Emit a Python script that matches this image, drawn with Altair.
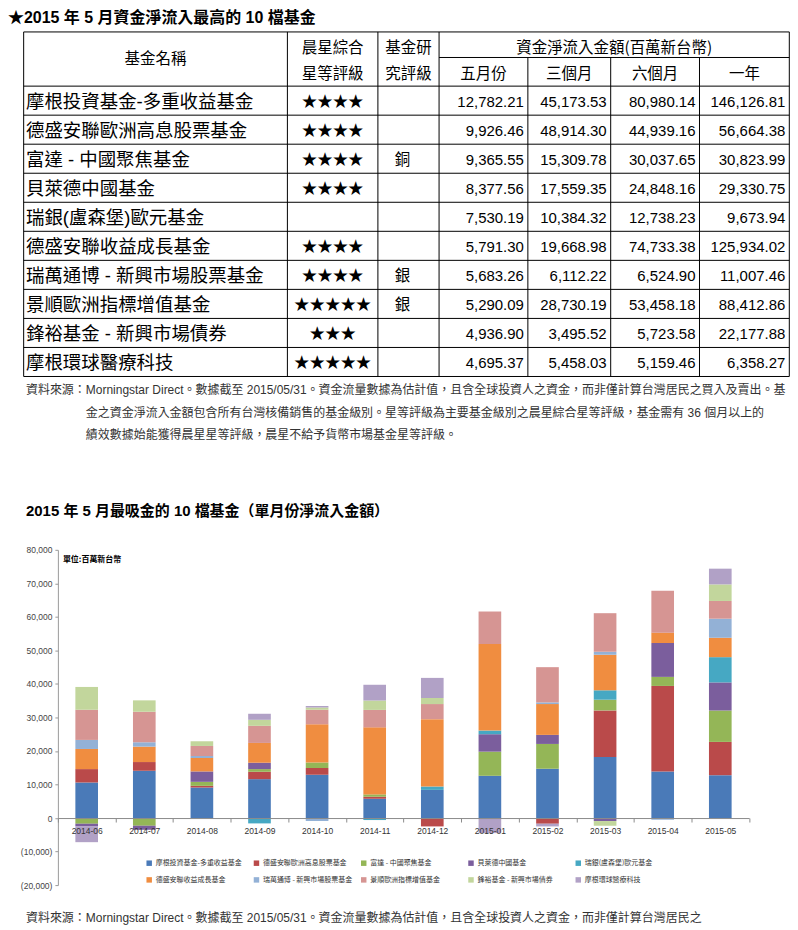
import altair as alt
import pandas as pd

# ---------------- data ----------------
months = ["2014-06", "2014-07", "2014-08", "2014-09", "2014-10", "2014-11",
          "2014-12", "2015-01", "2015-02", "2015-03", "2015-04", "2015-05"]

funds = ["摩根投資基金-多重收益基金", "德盛安聯歐洲高息股票基金", "富達 - 中國聚焦基金",
         "貝萊德中國基金", "瑞銀(盧森堡)歐元基金", "德盛安聯收益成長基金",
         "瑞萬通博 - 新興市場股票基金", "景順歐洲指標增值基金", "鋒裕基金 - 新興市場債券",
         "摩根環球醫療科技"]

fund_colors = ["#4A7AB8", "#BA4A4A", "#94B657", "#7B5E9D", "#46A8C3",
               "#F08D40", "#93B1D6", "#D69593", "#C2D69C", "#B1A1C6"]

# monthly net flows (NT$ million)
flow_morgan_income = [10600, 14100, 9100, 11600, 12900, 5750, 8400, 12600, 14700, 18200, 13900, 12782]
flow_allianz_euro  = [4000, 2600, 500, 2200, 2000, 600, -2500, 0, -1700, 13900, 25500, 9926]
flow_fidelity_cn   = [-1700, -2300, 1200, 800, 1700, 700, 0, 7200, 7400, 3200, 2700, 9366]
flow_blackrock_cn  = [-700, -1200, 3100, 1900, 0, 0, 0, 5200, 2700, -900, 10100, 8378]
flow_ubs_euro      = [0, 0, 0, -1600, 0, -600, 1000, 1100, 0, 2800, 0, 7530]
flow_allianz_inc   = [6000, 4600, 4000, 5900, 11400, 20000, 20100, 25800, 9200, 10600, 3100, 5791]
flow_vontobel_em   = [2700, 1300, 600, 0, -900, 0, 0, 0, 500, 900, -500, 5683]
flow_invesco_eu    = [9000, 9100, 3000, 5100, 4300, 5200, 4500, 9700, 10500, 11500, 12500, 5290]
flow_pioneer_em    = [6800, 3400, 1400, 1800, 700, 2800, 1800, 0, 0, -1400, 0, 4937]
flow_morgan_health = [-4800, 0, 0, 1800, 400, 4700, 6000, -4500, -800, 0, 0, 4695]

all_flows = [flow_morgan_income, flow_allianz_euro, flow_fidelity_cn, flow_blackrock_cn,
             flow_ubs_euro, flow_allianz_inc, flow_vontobel_em, flow_invesco_eu,
             flow_pioneer_em, flow_morgan_health]

# table
table_stars = ["★★★★", "★★★★", "★★★★", "★★★★", "", "★★★★", "★★★★", "★★★★★", "★★★", "★★★★★"]
table_research = ["", "", "銅", "", "", "", "銀", "銀", "", ""]
flow_may   = [12782.21, 9926.46, 9365.55, 8377.56, 7530.19, 5791.30, 5683.26, 5290.09, 4936.90, 4695.37]
flow_3m    = [45173.53, 48914.30, 15309.78, 17559.35, 10384.32, 19668.98, 6112.22, 28730.19, 3495.52, 5458.03]
flow_6m    = [80980.14, 44939.16, 30037.65, 24848.16, 12738.23, 74733.38, 6524.90, 53458.18, 5723.58, 5159.46]
flow_1y    = [146126.81, 56664.38, 30823.99, 29330.75, 9673.94, 125934.02, 11007.46, 88412.86, 22177.88, 6358.27]

table_title = "★2015 年 5 月資金淨流入最高的 10 檔基金"
chart_title = "2015 年 5 月最吸金的 10 檔基金（單月份淨流入金額）"
unit_label = "單位:百萬新台幣"
note_lines = [
    "資料來源：Morningstar Direct。數據截至 2015/05/31。資金流量數據為估計值，且含全球投資人之資金，而非僅計算台灣居民之買入及賣出。基",
    "金之資金淨流入金額包含所有台灣核備銷售的基金級別。星等評級為主要基金級別之晨星綜合星等評級，基金需有 36 個月以上的",
    "績效數據始能獲得晨星星等評級，晨星不給予貨幣市場基金星等評級。",
]
bottom_note = "資料來源：Morningstar Direct。數據截至 2015/05/31。資金流量數據為估計值，且含全球投資人之資金，而非僅計算台灣居民之"

# ---------------- layout (page pixels of the reference) ----------------
ORX, ORY = 57.0, 545.7          # plot-area origin
PW, PH = 692.7, 336.0           # plot-area size
Y_MIN, Y_MAX = -20000, 80000
BAR_W = 22.7
ZERO_FROM_BOTTOM = PH * (0 - Y_MIN) / (Y_MAX - Y_MIN)

def px(x):
    return x - ORX

def py(y):
    return y - ORY

CJK = "Noto Sans CJK TC"
LAT = "Liberation Sans, Noto Sans CJK TC"
NARROW = "Liberation Sans Narrow, Liberation Sans, Noto Sans CJK TC"

COLS = [22.7, 287.0, 377.7, 439.0, 528.0, 611.0, 700.0, 790.0]
T_TOP, T_SUB, T_HEAD, ROW_H = 26.7, 52.3, 81.0, 29.1
T_BOT = T_HEAD + ROW_H * 10

# table lines
segs = []
for yy, x0 in [(T_TOP, COLS[0]), (T_SUB, COLS[3]), (T_HEAD, COLS[0])]:
    segs.append((x0, COLS[-1], yy, yy))
for i in range(1, 11):
    yy = T_HEAD + ROW_H * i
    segs.append((COLS[0], COLS[-1], yy, yy))
for j, xx in enumerate(COLS):
    top = T_SUB if j in (4, 5, 6) else T_TOP
    segs.append((xx, xx, top, T_BOT))
rules_df = pd.DataFrame([{"x": px(a), "x2": px(b), "y": py(c), "y2": py(d)} for a, b, c, d in segs])

def cc(j):
    return (COLS[j] + COLS[j + 1]) / 2

head_rows = [
    ("基金名稱", cc(0), 54.0), ("晨星綜合", cc(1), 42.5), ("星等評級", cc(1), 68.5),
    ("基金研", cc(2), 42.5), ("究評級", cc(2), 68.5),
    ("資金淨流入金額(百萬新台幣)", (COLS[3] + COLS[7]) / 2, 42.5),
    ("五月份", cc(3), 68.5), ("三個月", cc(4), 68.5), ("六個月", cc(5), 68.5), ("一年", cc(6), 68.5),
]
head_df = pd.DataFrame([{"x": px(x), "y": py(y), "text": t} for t, x, y in head_rows])

row_y = [T_HEAD + ROW_H * (i + 0.5) + 1.0 for i in range(10)]
names_df = pd.DataFrame({"x": px(25.0), "y": [py(v) for v in row_y], "text": funds})
stars_df = pd.DataFrame({"x": px(cc(1)), "y": [py(v) for v in row_y], "text": table_stars})
research_df = pd.DataFrame({"x": px(cc(2) - 6), "y": [py(v) for v in row_y], "text": table_research})
num_rows = []
for j, vals in zip([3, 4, 5, 6], [flow_may, flow_3m, flow_6m, flow_1y]):
    for i, v in enumerate(vals):
        num_rows.append({"x": px(COLS[j + 1] - 4), "y": py(row_y[i]), "val": v})
nums_df = pd.DataFrame(num_rows)

title_df = pd.DataFrame([{"x": px(7), "y": py(12.5), "text": table_title}])
ctitle_df = pd.DataFrame([{"x": px(25), "y": py(507), "text": chart_title}])
notes_df = pd.DataFrame([
    {"x": px(25), "y": py(386), "text": note_lines[0]},
    {"x": px(85), "y": py(409), "text": note_lines[1]},
    {"x": px(85), "y": py(431), "text": note_lines[2]},
    {"x": px(25), "y": py(915), "text": bottom_note},
])
unit_df = pd.DataFrame([{"x": px(62), "y": py(556), "text": unit_label}])


def pix_text(df, align, size, weight="normal", font=CJK, color="#000000", field="text:N", fmt=None):
    text_enc = alt.Text(field, format=fmt) if fmt else alt.Text(field)
    return alt.Chart(df).mark_text(
        align=align, baseline="middle", fontSize=size, fontWeight=weight, font=font, color=color
    ).encode(
        x=alt.X("x:Q", scale=None, axis=None),
        y=alt.Y("y:Q", scale=None, axis=None),
        text=text_enc,
    )


rules = alt.Chart(rules_df).mark_rule(color="#000000", strokeWidth=1).encode(
    x=alt.X("x:Q", scale=None, axis=None), x2="x2:Q",
    y=alt.Y("y:Q", scale=None, axis=None), y2="y2:Q",
)

# ---------------- bar data ----------------
rows = []
for k, (f, vals) in enumerate(zip(funds, all_flows)):
    for m, v in zip(months, vals):
        if v != 0:
            rows.append({"month": m, "fund": f, "idx": k, "value": v})
bar_df = pd.DataFrame(rows)

y_label_expr = ("datum.value < 0 ? '(' + format(-datum.value, ',') + ')' : format(datum.value, ',')")

bars = alt.Chart(bar_df).mark_bar(size=BAR_W).encode(
    x=alt.X("month:N", sort=months,
            scale=alt.Scale(domain=months, paddingInner=0, paddingOuter=0),
            axis=alt.Axis(title=None, labelAngle=0, tickBand="extent",
                          offset=-ZERO_FROM_BOTTOM, zindex=1,
                          domainColor="#8c8c8c", tickColor="#8c8c8c", tickSize=4,
                          labelFont=NARROW, labelFontSize=8.5, labelColor="#333333",
                          labelPadding=4)),
    y=alt.Y("value:Q", stack="zero",
            scale=alt.Scale(domain=[Y_MIN, Y_MAX], nice=False, zero=False),
            axis=alt.Axis(title=None, values=list(range(Y_MIN, Y_MAX + 1, 10000)),
                          labelExpr=y_label_expr, grid=False,
                          domainColor="#9a9a9a", tickColor="#9a9a9a", tickSize=3,
                          labelFont=NARROW, labelFontSize=8.5, labelColor="#444444",
                          labelPadding=3)),
    color=alt.Color("fund:N", sort=funds,
                    scale=alt.Scale(domain=funds, range=fund_colors),
                    legend=alt.Legend(title=None, orient="none", direction="horizontal",
                                      columns=5, legendX=px(145), legendY=py(856),
                                      symbolType="square", symbolSize=30, symbolStrokeWidth=0,
                                      labelFont=CJK, labelFontSize=7, labelColor="#333333",
                                      labelLimit=300, labelOffset=3,
                                      gridAlign="all", columnPadding=7.5, rowPadding=9,
                                      padding=0)),
    order=alt.Order("idx:Q", sort="ascending"),
)

chart = alt.layer(
    bars,
    rules,
    pix_text(title_df, "left", 16, "bold", font=LAT),
    pix_text(head_df, "center", 15.5),
    pix_text(names_df, "left", 18.5, font=LAT),
    pix_text(stars_df, "center", 15.5),
    pix_text(research_df, "center", 15.5),
    pix_text(nums_df, "right", 15, font=LAT, field="val:Q", fmt=",.2f"),
    pix_text(notes_df, "left", 12, font=NARROW, color="#333333"),
    pix_text(ctitle_df, "left", 15, "bold", font=LAT),
    pix_text(unit_df, "left", 8, "bold"),
).properties(
    width=PW, height=PH, padding=0, background="white"
).configure_view(stroke=None)

chart.save("out.html", embed_options={"renderer": "svg", "actions": False})
